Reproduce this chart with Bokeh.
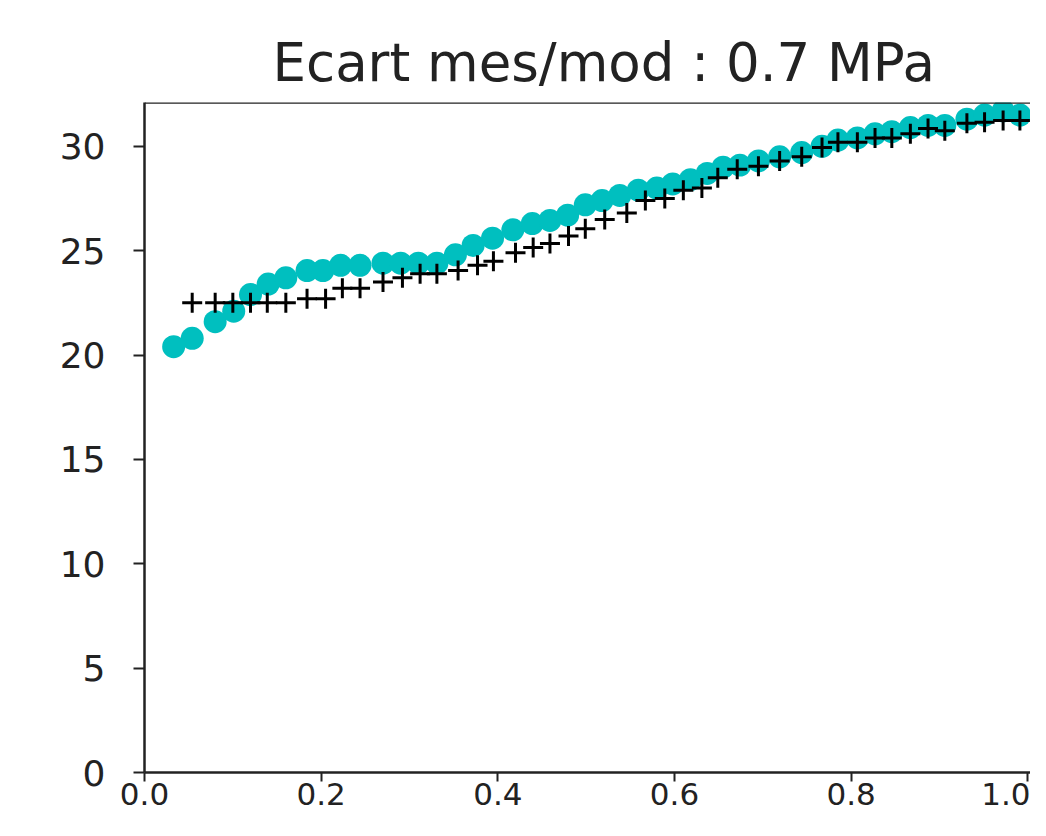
from bokeh.plotting import figure
from bokeh.models import FixedTicker, PrintfTickFormatter, Span, Range1d
from bokeh.embed import file_html
from bokeh.resources import INLINE

title_text = "Ecart mes/mod : 0.7 MPa"

# measured (cyan circles)
mes_x = [0.033, 0.054, 0.080, 0.101, 0.120, 0.140, 0.160, 0.184, 0.202, 0.222,
         0.244, 0.270, 0.290, 0.310, 0.331, 0.352, 0.372, 0.394, 0.417, 0.439,
         0.459, 0.479, 0.499, 0.518, 0.538, 0.559, 0.580, 0.598, 0.618, 0.637,
         0.655, 0.674, 0.695, 0.719, 0.744, 0.767, 0.785, 0.807, 0.827, 0.846,
         0.867, 0.887, 0.906, 0.931, 0.951, 0.972, 0.991]
mes_y = [20.4, 20.8, 21.6, 22.1, 22.9, 23.4, 23.7, 24.05, 24.05, 24.3,
         24.3, 24.4, 24.4, 24.4, 24.4, 24.8, 25.25, 25.6, 26.0, 26.3,
         26.45, 26.7, 27.2, 27.4, 27.65, 27.9, 28.0, 28.2, 28.4, 28.7,
         29.0, 29.1, 29.3, 29.5, 29.7, 30.0, 30.3, 30.4, 30.6, 30.7,
         30.9, 31.0, 31.0, 31.3, 31.5, 31.7, 31.5]

# model (black crosses)
mod_x = [0.054, 0.080, 0.100, 0.120, 0.139, 0.160, 0.184, 0.205, 0.224, 0.244,
         0.270, 0.292, 0.312, 0.331, 0.355, 0.377, 0.395, 0.420, 0.440, 0.459,
         0.480, 0.499, 0.521, 0.546, 0.567, 0.589, 0.610, 0.631, 0.649, 0.671,
         0.695, 0.719, 0.744, 0.767, 0.785, 0.807, 0.827, 0.846, 0.867, 0.887,
         0.906, 0.931, 0.951, 0.972, 0.991]
mod_y = [22.5, 22.5, 22.5, 22.5, 22.5, 22.5, 22.7, 22.7, 23.2, 23.2,
         23.5, 23.7, 23.9, 23.9, 24.05, 24.3, 24.5, 24.9, 25.15, 25.35,
         25.7, 26.05, 26.5, 26.8, 27.4, 27.5, 27.9, 28.0, 28.5, 28.9,
         29.05, 29.3, 29.5, 29.95, 30.2, 30.2, 30.4, 30.4, 30.6, 30.85,
         30.75, 31.1, 31.15, 31.24, 31.24]

x_ticks = [0.0, 0.2, 0.4, 0.6, 0.8, 1.0]
y_ticks = [0, 5, 10, 15, 20, 25, 30]

X_END = 1.003
Y_END = 32.1

p = figure(width=1030, height=820, output_backend="svg", toolbar_location=None,
           x_range=Range1d(0, X_END), y_range=Range1d(0, Y_END),
           min_border_left=144, min_border_right=0, min_border_top=102,
           min_border_bottom=48)

p.title.text = title_text
p.title.align = "left"
p.title.offset = 128
p.title.text_font = "DejaVu Sans"
p.title.text_font_size = "53px"
p.title.text_font_style = "normal"
p.title.text_color = "#222222"
p.title.standoff = 19

p.outline_line_color = None
p.grid.visible = False
p.background_fill_color = "white"
p.border_fill_color = "white"

for ax in (p.xaxis[0], p.yaxis[0]):
    ax.axis_line_color = "#222222"
    ax.axis_line_width = 2.5
    ax.major_tick_line_color = "#222222"
    ax.major_tick_line_width = 2
    ax.major_tick_out = 11
    ax.major_tick_in = 0
    ax.minor_tick_line_color = None
    ax.major_label_text_font = "DejaVu Sans"
    ax.major_label_text_font_size = "36px"
    ax.major_label_text_color = "#222222"

p.xaxis.ticker = FixedTicker(ticks=x_ticks)
p.xaxis.formatter = PrintfTickFormatter(format="%.1f")
p.xaxis.major_tick_out = 9
p.xaxis.major_label_standoff = 1
p.xaxis.major_label_text_font_size = "31px"
p.yaxis.ticker = FixedTicker(ticks=y_ticks)
p.yaxis.major_label_standoff = 28

top_line = Span(location=Y_END, dimension="width", line_color="#222222", line_width=2.5)
p.add_layout(top_line)

p.scatter(mes_x, mes_y, marker="circle", size=23, fill_color="#00BFBF",
          line_color="#00BFBF", line_width=0)
p.scatter(mod_x, mod_y, marker="cross", size=20, line_color="black", line_width=3)

open("out.html", "w").write(file_html(p, INLINE))
